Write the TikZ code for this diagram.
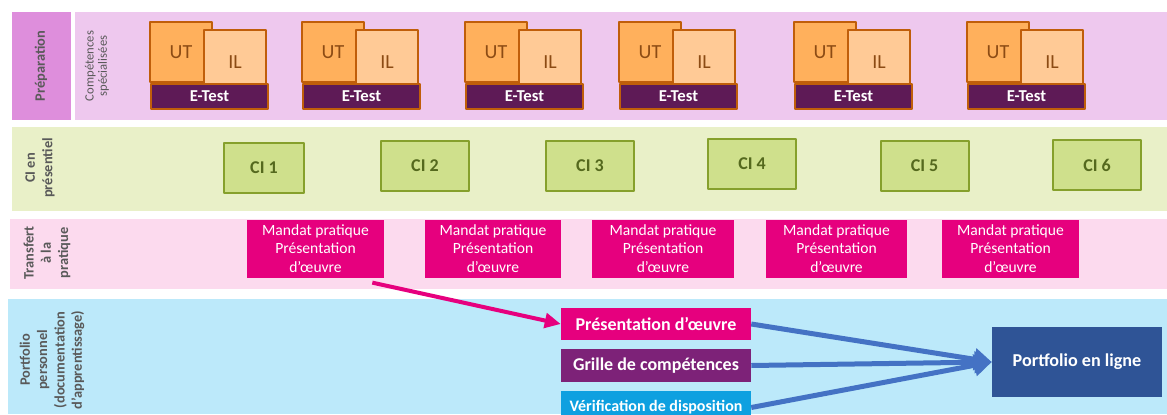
\documentclass[tikz,border=0pt]{standalone}
\usepackage{fontspec}
\setmainfont{Carlito}
\usetikzlibrary{arrows.meta}
\definecolor{prepfonce}{RGB}{222,142,220}
\definecolor{prepclair}{RGB}{238,200,238}
\definecolor{cibande}{RGB}{233,240,200}
\definecolor{trbande}{RGB}{252,218,238}
\definecolor{pfbande}{RGB}{188,233,250}
\definecolor{orbord}{RGB}{192,94,10}
\definecolor{orut}{RGB}{255,176,92}
\definecolor{oril}{RGB}{255,202,150}
\definecolor{ortexte}{RGB}{140,75,20}
\definecolor{etfond}{RGB}{94,26,86}
\definecolor{cifond}{RGB}{207,224,140}
\definecolor{cibord}{RGB}{134,160,44}
\definecolor{citexte}{RGB}{85,105,30}
\definecolor{rose}{RGB}{230,0,126}
\definecolor{violet}{RGB}{125,34,120}
\definecolor{cyan}{RGB}{14,160,224}
\definecolor{bleufonce}{RGB}{47,84,150}
\definecolor{bleufleche}{RGB}{68,114,196}
\definecolor{gristexte}{RGB}{89,89,89}
\begin{document}
\begin{tikzpicture}[x=0.75pt,y=-0.75pt,line join=round,
	lbl/.style={rotate=90,align=center,text=gristexte,font=\fontsize{10.8}{13}\selectfont\bfseries},
	utbox/.style={draw=orbord,line width=1.5pt,fill=orut,minimum width=46.5pt,minimum height=45pt,text=ortexte,font=\fontsize{15}{18}\selectfont},
	ilbox/.style={utbox,fill=oril,minimum height=48pt},
	etest/.style={draw=orbord,line width=1.5pt,fill=etfond,minimum width=87.75pt,minimum height=18.75pt,text=white,font=\fontsize{12.5}{15}\selectfont\bfseries},
	cibox/.style={draw=cibord,line width=1.5pt,fill=cifond,minimum height=37.5pt,text=citexte,font=\fontsize{13.5}{16}\selectfont\bfseries},
	mandat/.style={fill=rose,minimum height=43.5pt,align=center,text=white,font=\fontsize{11.7}{14}\selectfont},
	docbox/.style={minimum width=142.5pt,minimum height=24.5pt,text=white,font=\fontsize{13.5}{15}\selectfont\bfseries},
	pinkarrow/.style={rose,line width=3pt,-{Triangle[length=12pt,width=11pt]}},
	bluearrow/.style={bleufleche,line width=3.75pt,-{Triangle[length=13pt,width=16pt]}}]
	\useasboundingbox (0,0) rectangle (1167,414);
	% bandes
	\fill[prepfonce] (12,12) rectangle (71,120);
	\fill[prepclair] (75,12) rectangle (1167,120);
	\fill[cibande] (12,127) rectangle (1167,211);
	\fill[trbande] (10,219) rectangle (1167,289);
	\fill[pfbande] (8,299) rectangle (1167,414);
	\node[lbl] (prep) at (41,66) {Préparation};
	\node[lbl,font=\fontsize{9.5}{10}\selectfont] (comp) at (97,66) {Compétences\\spécialisées};
	\node[lbl] (cipres) at (40,168) {CI en\\présentiel};
	\node[lbl] (transf) at (47,253) {Transfert\\à la\\pratique};
	\node[lbl] (portp) at (52,360) {Portfolio\\personnel\\(documentation\\d’apprentissage)};
	% UT, IL, E-Test
	\foreach \x [count=\i] in {150,302,465,619,794,967}{
		\node[utbox] (ut\i) at (\x+31,52) {UT};
		\node[ilbox] (il\i) at (\x+85,62) {IL};
		\node[etest] (et\i) at (\x+59.5,96.5) {E-Test};
	}
	% CI
	\foreach \x/\y/\w [count=\i] in {264/168/60,425/165.5/66,590/165.5/66,752/163.5/66,924.5/166/66,1097/165/66}
		\node[cibox,minimum width=\w pt] (ci\i) at (\x,\y) {CI \i};
	% mandats
	\foreach \x/\w [count=\i] in {315.5/103,493/102,663/106.5,836.5/106,1010.5/103}
		\node[mandat,minimum width=\w pt] (md\i) at (\x,248.5) {Mandat pratique\\Présentation\\d’œuvre};
	% portfolio
	\node[docbox,fill=rose] (pres) at (656,324) {Présentation d’œuvre};
	\node[docbox,fill=violet] (grille) at (656,365.5) {Grille de compétences};
	\node[docbox,fill=cyan,font=\fontsize{12}{14}\selectfont\bfseries] (verif) at (656,407.5) {Vérification de disposition};
	\node[fill=bleufonce,minimum width=127.5pt,minimum height=52.5pt,text=white,font=\fontsize{13.6}{15}\selectfont\bfseries] (portf) at (1077,362) {Portfolio en ligne};
	\draw[pinkarrow,shorten <=17pt] ([xshift=26pt]md1.south) -- (pres.west);
	\draw[bluearrow] (pres.east) -- (portf.west);
	\draw[bluearrow] (grille.east) -- (portf.west);
	\draw[bluearrow] (verif.east) -- (portf.west);
\end{tikzpicture}
\end{document}
